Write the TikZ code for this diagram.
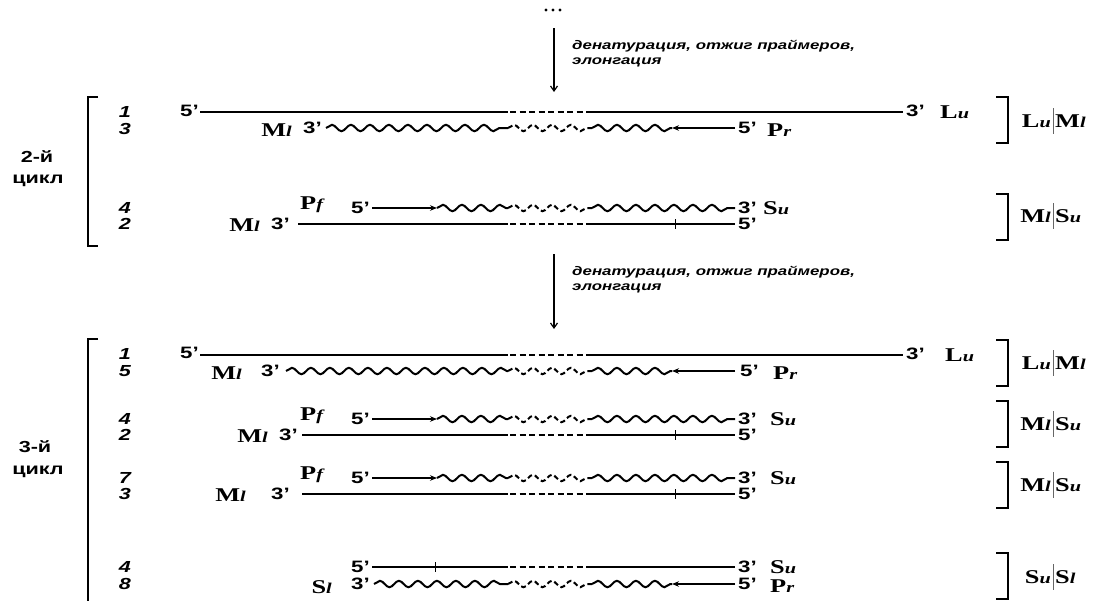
\documentclass[tikz,border=0pt]{standalone}
\usepackage{fontspec}
\setmainfont{Liberation Sans}[FakeStretch=1.35]
\newfontfamily\tnr{Liberation Serif}[FakeStretch=1.35]
\usetikzlibrary{arrows.meta,decorations.pathmorphing}
\newcommand\gn[2]{{\tnr\fontsize{19.5}{19.5}\selectfont\bfseries #1\fontsize{15}{15}\selectfont\itshape #2}}
\tikzset{
  strand/.style={line width=2.2pt},
  dstrand/.style={line width=2.2pt, dash pattern=on 6pt off 3.5pt},
  wavy/.style={line width=2pt, decorate, decoration={snake, segment length=19pt, amplitude=3.2pt}},
  dwavy/.style={wavy, dash pattern=on 5pt off 3pt},
  tipr/.style={-{Stealth[length=7pt,width=5.5pt]}},
  tick/.style={line width=1pt},
  num/.style={font=\bfseries\itshape\fontsize{16}{16}\selectfont, inner sep=0pt},
  end/.style={font=\bfseries\fontsize{16.5}{16.5}\selectfont, inner sep=0pt},
  gene/.style={inner sep=0pt},
  cyc/.style={font=\bfseries\fontsize{16}{16}\selectfont, inner sep=0pt},
  step note/.style={font=\bfseries\itshape\fontsize{12.5}{15}\selectfont, align=left, anchor=west, inner sep=0pt},
  flow/.style={line width=1.2pt, -{Straight Barb[length=5pt,width=7pt]}},
  brk/.style={line width=1.2pt},
  bar/.style={line width=0.8pt, draw=black!60},
}
\begin{document}
\begin{tikzpicture}[x=1pt,y=-1pt]
\useasboundingbox (0,0) rectangle (1094,600);

% top dots and first arrow
\foreach \xx in {546,553,560} \fill (\xx,10) circle (1.6);
\coordinate (a1s) at (554,28); \coordinate (a1e) at (554,92);
\draw[flow] (a1s) -- (a1e);
\node[step note] (n1) at (572,54) {денатурация, отжиг праймеров,\\элонгация};

% ===== cycle 2 =====
\draw[brk] (98,97) -- (88,97) -- (88,246) -- (98,246);
\node[cyc] (c2a) at (37,157) {2-й};
\node[cyc] (c2b) at (38,181) {цикл};

% row 1
\node[num] (r1n) at (125,112) {1};
\node[end,anchor=east] (r1l) at (199,111) {5’};
\draw[strand] (200,112) -- (508,112);
\draw[dstrand] (510,112) -- (592,112);
\draw[strand] (592,112) -- (903,112);
\node[end,anchor=west] (r1r) at (906,111) {3’};
\node[gene,anchor=west] (r1g) at (940,112) {\gn{L}{u}};

% row 3
\node[num] (r3n) at (125,129) {3};
\node[gene,anchor=east] (r3g) at (292,130) {\gn{M}{l}};
\node[end,anchor=east] (r3l) at (322,128) {3’};
\draw[wavy] (326,128) -- (508,128);
\draw[dwavy] (508,128) -- (592,128);
\draw[wavy] (592,128) -- (672,128);
\draw[strand,tipr] (735,128) -- (672,128);
\node[end,anchor=west] (r3r) at (738,128) {5’};
\node[gene,anchor=west] (r3p) at (767,130) {\gn{P}{r}};

\draw[brk] (996,97) -- (1008,97) -- (1008,143) -- (996,143);
\node[gene,anchor=east] (b1a) at (1051,121) {\gn{L}{u}};
\draw[bar] (1053,108) -- (1053,134);
\node[gene,anchor=west] (b1b) at (1055,121) {\gn{M}{l}};

% row 4
\node[num] (r4n) at (125,208) {4};
\node[gene,anchor=west] (r4p) at (300,205) {\gn{P}{f}};
\node[end,anchor=east] (r4l) at (370,208) {5’};
\draw[strand,tipr] (372,208) -- (437,208);
\draw[wavy] (437,208) -- (508,208);
\draw[dwavy] (508,208) -- (592,208);
\draw[wavy] (592,208) -- (735,208);
\node[end,anchor=west] (r4r) at (738,208) {3’};
\node[gene,anchor=west] (r4g) at (763,208) {\gn{S}{u}};

% row 2
\node[num] (r2n) at (125,224) {2};
\node[gene,anchor=east] (r2g) at (260,225) {\gn{M}{l}};
\node[end,anchor=east] (r2l) at (290,224) {3’};
\draw[strand] (298,224) -- (508,224);
\draw[dstrand] (510,224) -- (592,224);
\draw[strand] (592,224) -- (735,224);
\draw[tick] (675,219) -- (675,229);
\node[end,anchor=west] (r2r) at (738,224) {5’};

\draw[brk] (996,194) -- (1008,194) -- (1008,240) -- (996,240);
\node[gene,anchor=east] (b2a) at (1051,216) {\gn{M}{l}};
\draw[bar] (1053,203) -- (1053,229);
\node[gene,anchor=west] (b2b) at (1055,216) {\gn{S}{u}};

% second arrow
\coordinate (a2s) at (554,254); \coordinate (a2e) at (554,329);
\draw[flow] (a2s) -- (a2e);
\node[step note] (n2) at (572,280) {денатурация, отжиг праймеров,\\элонгация};

% ===== cycle 3 =====
\draw[brk] (98,339) -- (88,339) -- (88,610);
\node[cyc] (c3a) at (35,447) {3-й};
\node[cyc] (c3b) at (38,472) {цикл};

% row 1
\node[num] (s1n) at (125,354) {1};
\node[end,anchor=east] (s1l) at (199,353) {5’};
\draw[strand] (200,355) -- (508,355);
\draw[dstrand] (510,355) -- (592,355);
\draw[strand] (592,355) -- (903,355);
\node[end,anchor=west] (s1r) at (906,354) {3’};
\node[gene,anchor=west] (s1g) at (945,355) {\gn{L}{u}};

% row 5
\node[num] (s5n) at (125,371) {5};
\node[gene,anchor=east] (s5g) at (242,373) {\gn{M}{l}};
\node[end,anchor=east] (s5l) at (280,371) {3’};
\draw[wavy] (286,371) -- (508,371);
\draw[dwavy] (508,371) -- (592,371);
\draw[wavy] (592,371) -- (672,371);
\draw[strand,tipr] (735,371) -- (672,371);
\node[end,anchor=west] (s5r) at (740,371) {5’};
\node[gene,anchor=west] (s5p) at (773,373) {\gn{P}{r}};

\draw[brk] (996,340) -- (1008,340) -- (1008,386) -- (996,386);
\node[gene,anchor=east] (b3a) at (1051,363) {\gn{L}{u}};
\draw[bar] (1053,350) -- (1053,376);
\node[gene,anchor=west] (b3b) at (1055,363) {\gn{M}{l}};

% row 4
\node[num] (s4n) at (125,419) {4};
\node[gene,anchor=west] (s4p) at (300,416) {\gn{P}{f}};
\node[end,anchor=east] (s4l) at (370,419) {5’};
\draw[strand,tipr] (372,419) -- (437,419);
\draw[wavy] (437,419) -- (508,419);
\draw[dwavy] (508,419) -- (592,419);
\draw[wavy] (592,419) -- (735,419);
\node[end,anchor=west] (s4r) at (738,419) {3’};
\node[gene,anchor=west] (s4g) at (770,419) {\gn{S}{u}};

% row 2
\node[num] (s2n) at (125,435) {2};
\node[gene,anchor=east] (s2g) at (268,436) {\gn{M}{l}};
\node[end,anchor=east] (s2l) at (298,435) {3’};
\draw[strand] (302,435) -- (508,435);
\draw[dstrand] (510,435) -- (592,435);
\draw[strand] (592,435) -- (735,435);
\draw[tick] (675,430) -- (675,440);
\node[end,anchor=west] (s2r) at (738,435) {5’};

\draw[brk] (996,401) -- (1008,401) -- (1008,447) -- (996,447);
\node[gene,anchor=east] (b4a) at (1051,424) {\gn{M}{l}};
\draw[bar] (1053,411) -- (1053,437);
\node[gene,anchor=west] (b4b) at (1055,424) {\gn{S}{u}};

% row 7
\node[num] (s7n) at (125,478) {7};
\node[gene,anchor=west] (s7p) at (300,475) {\gn{P}{f}};
\node[end,anchor=east] (s7l) at (370,478) {5’};
\draw[strand,tipr] (372,478) -- (437,478);
\draw[wavy] (437,478) -- (508,478);
\draw[dwavy] (508,478) -- (592,478);
\draw[wavy] (592,478) -- (735,478);
\node[end,anchor=west] (s7r) at (738,478) {3’};
\node[gene,anchor=west] (s7g) at (770,478) {\gn{S}{u}};

% row 3
\node[num] (s3n) at (125,494) {3};
\node[gene,anchor=east] (s3g) at (246,495) {\gn{M}{l}};
\node[end,anchor=east] (s3l) at (290,494) {3’};
\draw[strand] (302,494) -- (508,494);
\draw[dstrand] (510,494) -- (592,494);
\draw[strand] (592,494) -- (735,494);
\draw[tick] (675,489) -- (675,499);
\node[end,anchor=west] (s3r) at (738,494) {5’};

\draw[brk] (996,462) -- (1008,462) -- (1008,508) -- (996,508);
\node[gene,anchor=east] (b5a) at (1051,485) {\gn{M}{l}};
\draw[bar] (1053,472) -- (1053,498);
\node[gene,anchor=west] (b5b) at (1055,485) {\gn{S}{u}};

% row 4b
\node[num] (s4bn) at (125,567) {4};
\node[end,anchor=east] (s4bl) at (370,567) {5’};
\draw[strand] (372,567) -- (508,567);
\draw[tick] (435,562) -- (435,572);
\draw[dstrand] (510,567) -- (592,567);
\draw[strand] (592,567) -- (735,567);
\node[end,anchor=west] (s4br) at (738,567) {3’};
\node[gene,anchor=west] (s4bg) at (770,567) {\gn{S}{u}};

% row 8
\node[num] (s8n) at (125,584) {8};
\node[gene,anchor=east] (s8g) at (332,587) {\gn{S}{l}};
\node[end,anchor=east] (s8l) at (370,584) {3’};
\draw[wavy] (374,584) -- (508,584);
\draw[dwavy] (508,584) -- (592,584);
\draw[wavy] (592,584) -- (672,584);
\draw[strand,tipr] (735,584) -- (672,584);
\node[end,anchor=west] (s8r) at (738,584) {5’};
\node[gene,anchor=west] (s8p) at (770,586) {\gn{P}{r}};

\draw[brk] (996,553) -- (1008,553) -- (1008,599) -- (996,599);
\node[gene,anchor=east] (b6a) at (1051,577) {\gn{S}{u}};
\draw[bar] (1053,564) -- (1053,590);
\node[gene,anchor=west] (b6b) at (1055,577) {\gn{S}{l}};
\end{tikzpicture}
\end{document}
